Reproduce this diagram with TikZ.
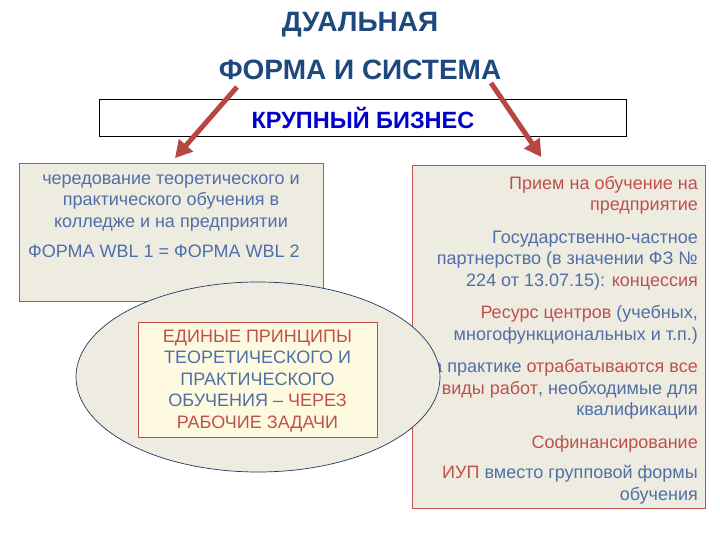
\documentclass[tikz,border=0pt]{standalone}
\usepackage{fontspec}
\setmainfont{Liberation Sans}
\usetikzlibrary{shapes.geometric,arrows.meta}

\definecolor{titleblue}{HTML}{1F497D}
\definecolor{bizblue}{HTML}{0000CC}
\definecolor{txtred}{HTML}{C0504D}
\definecolor{txtblue}{HTML}{4F6FA8}
\definecolor{boxfill}{HTML}{EEECE1}
\definecolor{notefill}{HTML}{FEFADF}
\definecolor{arrowred}{HTML}{B84643}
\definecolor{ovalline}{HTML}{1F3864}

\newcommand{\rd}[1]{\textcolor{txtred}{#1}}
\newcommand{\bl}[1]{\textcolor{txtblue}{#1}}

\begin{document}
\begin{tikzpicture}[x=1pt, y=-1pt,
  titletext/.style={font=\fontsize{28}{32}\selectfont\bfseries, text=titleblue, inner sep=0pt},
  bodytext/.style={font=\fontsize{18}{21.5}\selectfont, inner sep=0pt},
  beigebox/.style={draw=txtred, line width=0.8pt, fill=boxfill, inner sep=0pt},
  bigarrow/.style={arrowred, line width=5pt, -{Triangle[width=18pt,length=17pt]}}]

  \useasboundingbox[fill=white] (0,0) rectangle (720,540);

  %% ---- Title ----
  \node[titletext, anchor=base] (title1) at (360,32) {ДУАЛЬНАЯ};
  \node[titletext, anchor=base] (title2) at (360,80) {ФОРМА И СИСТЕМА};

  %% Business box
  \node[draw=black, line width=0.8pt, minimum width=527, minimum height=37,
        font=\fontsize{23.5}{26}\selectfont\bfseries, text=bizblue]
        (biz) at (363,117.5) {КРУПНЫЙ БИЗНЕС};

  %% ---- Left box ----
  %% (base anchor = last line)
  \node[beigebox, minimum width=304, minimum height=138] (lbox) at (171,232) {};
  \node[bodytext, text=txtblue, align=center, anchor=base] (ltext) at (171,227)
    {чередование теоретического и\\практического обучения в\\колледже и на предприятии};
  \node[bodytext, text=txtblue, anchor=base west] (wbl) at (28,257)
    {ФОРМА WBL 1 = ФОРМА WBL 2};

  %% ---- Right box ----
  \node[beigebox, minimum width=293, minimum height=343] (rbox) at (558.5,336.5) {};
  \node[bodytext, align=right, anchor=base east] (rtext) at (698,500)
    {\rd{Прием на обучение на}\\\rd{предприятие}\\[11pt]
     \bl{Государственно-частное}\\\bl{партнерство (в значении ФЗ №}\\
     \bl{224 от 13.07.15):} \rd{концессия}\\[11pt]
     \rd{Ресурс центров} \bl{(учебных,}\\\bl{многофункциональных и т.п.)}\\[11pt]
     \bl{На практике} \rd{отрабатываются все}\\\rd{виды работ}\bl{, необходимые для}\\
     \bl{квалификации}\\[11pt]
     \rd{Софинансирование}\\[9pt]
     \rd{ИУП} \bl{вместо групповой формы}\\\bl{обучения}};

  %% ---- Oval with principles ----
  \node[ellipse, draw=ovalline, line width=0.7pt, fill=boxfill,
        minimum width=364, minimum height=190] (oval) at (258,377) {};
  \node[draw=txtred, line width=0.8pt, fill=notefill,
        minimum width=239, minimum height=115] (note) at (257.5,379.5) {};
  \node[bodytext, align=center, anchor=base] (ntext) at (257.5,428)
    {\rd{ЕДИНЫЕ ПРИНЦИПЫ}\\\bl{ТЕОРЕТИЧЕСКОГО И}\\\bl{ПРАКТИЧЕСКОГО}\\
     \bl{ОБУЧЕНИЯ –} \rd{ЧЕРЕЗ}\\\rd{РАБОЧИЕ ЗАДАЧИ}};

  %% ---- Arrows ----
  \coordinate (lstart) at (237,87);
  \coordinate (rstart) at (491,83);
  \draw[bigarrow, shorten >=6pt] (lstart) -- (lbox.north);
  \draw[bigarrow, shorten >=9pt] (rstart) -- (rbox.94);

\end{tikzpicture}
\end{document}
